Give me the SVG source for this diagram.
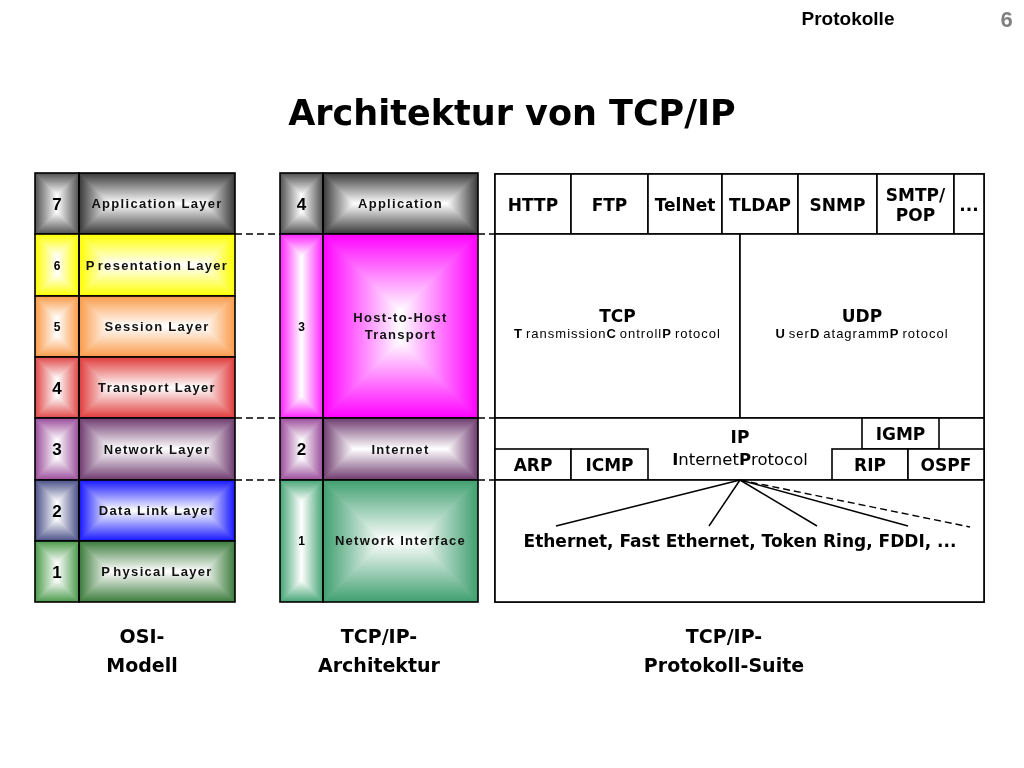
<svg xmlns="http://www.w3.org/2000/svg" width="1024" height="768" viewBox="0 0 1024 768">
<style>
.gl{mix-blend-mode:screen;isolation:isolate}
.dk{mix-blend-mode:darken}
.ol{fill:none;stroke:#000;stroke-width:1.6}
.bx{fill:#fff;stroke:#000;stroke-width:1.6}
.nL{font-family:"Liberation Sans",Arial,sans-serif;font-weight:bold;font-size:17px;text-anchor:middle;fill:#000}
.nS{font-family:"Liberation Sans",Arial,sans-serif;font-weight:bold;font-size:12px;text-anchor:middle;fill:#000}
.lb{font-family:"Liberation Sans",Arial,sans-serif;font-weight:bold;font-size:13px;letter-spacing:1.3px;text-anchor:middle;fill:#111}
.pr{font-family:"DejaVu Sans",Verdana,sans-serif;font-weight:bold;font-size:17px;text-anchor:middle;fill:#000}
.sub{font-family:"Liberation Sans",Arial,sans-serif;font-size:13px;letter-spacing:1px;text-anchor:middle;fill:#000}
.b{font-weight:bold}
.cap{font-family:"DejaVu Sans",Verdana,sans-serif;font-weight:bold;font-size:19px;text-anchor:middle;fill:#000}
.ln{fill:none;stroke:#000;stroke-width:1.5}
.dash{fill:none;stroke:#000;stroke-width:1.4;stroke-dasharray:7 4}
</style>
<defs>
<linearGradient id="tH" x1="0" y1="0" x2="1" y2="0"><stop offset="0" stop-color="#000"/><stop offset=".5" stop-color="#fff"/><stop offset="1" stop-color="#000"/></linearGradient>
<linearGradient id="tV" x1="0" y1="0" x2="0" y2="1"><stop offset="0" stop-color="#000"/><stop offset=".5" stop-color="#fff"/><stop offset="1" stop-color="#000"/></linearGradient>
<linearGradient id="pH20" x1="0" y1="0" x2="1" y2="0"><stop offset="0" stop-color="#000"/><stop offset=".2" stop-color="#fff"/><stop offset=".8" stop-color="#fff"/><stop offset="1" stop-color="#000"/></linearGradient>
<linearGradient id="pH39" x1="0" y1="0" x2="1" y2="0"><stop offset="0" stop-color="#000"/><stop offset=".39" stop-color="#fff"/><stop offset=".61" stop-color="#fff"/><stop offset="1" stop-color="#000"/></linearGradient>
<linearGradient id="pV36" x1="0" y1="0" x2="0" y2="1"><stop offset="0" stop-color="#000"/><stop offset=".36" stop-color="#fff"/><stop offset=".64" stop-color="#fff"/><stop offset="1" stop-color="#000"/></linearGradient>
<linearGradient id="pV42" x1="0" y1="0" x2="0" y2="1"><stop offset="0" stop-color="#000"/><stop offset=".42" stop-color="#fff"/><stop offset=".58" stop-color="#fff"/><stop offset="1" stop-color="#000"/></linearGradient>
<linearGradient id="pV12" x1="0" y1="0" x2="0" y2="1"><stop offset="0" stop-color="#000"/><stop offset=".12" stop-color="#fff"/><stop offset=".88" stop-color="#fff"/><stop offset="1" stop-color="#000"/></linearGradient>
<linearGradient id="pV18" x1="0" y1="0" x2="0" y2="1"><stop offset="0" stop-color="#000"/><stop offset=".18" stop-color="#fff"/><stop offset=".82" stop-color="#fff"/><stop offset="1" stop-color="#000"/></linearGradient>
</defs>
<rect x="0" y="0" width="1024" height="768" fill="#fff"/>

<g id="header">
<text x="848" y="25" style="font-family:'Liberation Sans',Arial,sans-serif;font-weight:bold;font-size:19px;text-anchor:middle;fill:#000">Protokolle</text>
<text x="1006.5" y="27" style="font-family:'Liberation Sans',Arial,sans-serif;font-weight:bold;font-size:22px;text-anchor:middle;fill:#808080">6</text>
<text x="512" y="125" style="font-family:'DejaVu Sans',Verdana,sans-serif;font-weight:bold;font-size:35px;text-anchor:middle;fill:#000">Architektur von TCP/IP</text>
</g>

<!-- OSI model -->
<g id="osi-7">
<rect x="35" y="173" width="44" height="61" fill="#505050"/>
<g class="gl"><rect x="35" y="173" width="44" height="61" fill="url(#tH)"/><rect class="dk" x="35" y="173" width="44" height="61" fill="url(#pV36)"/></g>
<rect x="79" y="173" width="156" height="61" fill="#383838"/>
<g class="gl"><rect x="79" y="173" width="156" height="61" fill="url(#pH20)"/><rect class="dk" x="79" y="173" width="156" height="61" fill="url(#tV)"/></g>
<rect class="ol" x="35" y="173" width="44" height="61"/><rect class="ol" x="79" y="173" width="156" height="61"/>
<text class="nL" x="57" y="209.5">7</text>
<text class="lb" x="157" y="208">Application Layer</text>
</g>
<g id="osi-6">
<rect x="35" y="234" width="44" height="62" fill="#ffff00"/>
<g class="gl"><rect x="35" y="234" width="44" height="62" fill="url(#tH)"/><rect class="dk" x="35" y="234" width="44" height="62" fill="url(#pV36)"/></g>
<rect x="79" y="234" width="156" height="62" fill="#ffff00"/>
<g class="gl"><rect x="79" y="234" width="156" height="62" fill="url(#pH20)"/><rect class="dk" x="79" y="234" width="156" height="62" fill="url(#tV)"/></g>
<rect class="ol" x="35" y="234" width="44" height="62"/><rect class="ol" x="79" y="234" width="156" height="62"/>
<text class="nS" x="57" y="269.5">6</text>
<text class="lb" x="157" y="269.5">P<tspan dx="2">resentation Layer</tspan></text>
</g>
<g id="osi-5">
<rect x="35" y="296" width="44" height="61" fill="#fa9a48"/>
<g class="gl"><rect x="35" y="296" width="44" height="61" fill="url(#tH)"/><rect class="dk" x="35" y="296" width="44" height="61" fill="url(#pV36)"/></g>
<rect x="79" y="296" width="156" height="61" fill="#fa9a48"/>
<g class="gl"><rect x="79" y="296" width="156" height="61" fill="url(#pH20)"/><rect class="dk" x="79" y="296" width="156" height="61" fill="url(#tV)"/></g>
<rect class="ol" x="35" y="296" width="44" height="61"/><rect class="ol" x="79" y="296" width="156" height="61"/>
<text class="nS" x="57" y="331">5</text>
<text class="lb" x="157" y="331">Session Layer</text>
</g>
<g id="osi-4">
<rect x="35" y="357" width="44" height="61" fill="#e04848"/>
<g class="gl"><rect x="35" y="357" width="44" height="61" fill="url(#tH)"/><rect class="dk" x="35" y="357" width="44" height="61" fill="url(#pV36)"/></g>
<rect x="79" y="357" width="156" height="61" fill="#e03a3a"/>
<g class="gl"><rect x="79" y="357" width="156" height="61" fill="url(#pH20)"/><rect class="dk" x="79" y="357" width="156" height="61" fill="url(#tV)"/></g>
<rect class="ol" x="35" y="357" width="44" height="61"/><rect class="ol" x="79" y="357" width="156" height="61"/>
<text class="nL" x="57" y="393.5">4</text>
<text class="lb" x="157" y="392">Transport Layer</text>
</g>
<g id="osi-3">
<rect x="35" y="418" width="44" height="62" fill="#9a4c9a"/>
<g class="gl"><rect x="35" y="418" width="44" height="62" fill="url(#tH)"/><rect class="dk" x="35" y="418" width="44" height="62" fill="url(#pV36)"/></g>
<rect x="79" y="418" width="156" height="62" fill="#6e3a6e"/>
<g class="gl"><rect x="79" y="418" width="156" height="62" fill="url(#pH20)"/><rect class="dk" x="79" y="418" width="156" height="62" fill="url(#tV)"/></g>
<rect class="ol" x="35" y="418" width="44" height="62"/><rect class="ol" x="79" y="418" width="156" height="62"/>
<text class="nL" x="57" y="455">3</text>
<text class="lb" x="157" y="453.5">Network Layer</text>
</g>
<g id="osi-2">
<rect x="35" y="480" width="44" height="61" fill="#4a5088"/>
<g class="gl"><rect x="35" y="480" width="44" height="61" fill="url(#tH)"/><rect class="dk" x="35" y="480" width="44" height="61" fill="url(#pV36)"/></g>
<rect x="79" y="480" width="156" height="61" fill="#1515ff"/>
<g class="gl"><rect x="79" y="480" width="156" height="61" fill="url(#pH20)"/><rect class="dk" x="79" y="480" width="156" height="61" fill="url(#tV)"/></g>
<rect class="ol" x="35" y="480" width="44" height="61"/><rect class="ol" x="79" y="480" width="156" height="61"/>
<text class="nL" x="57" y="516.5">2</text>
<text class="lb" x="157" y="515">Data Link Layer</text>
</g>
<g id="osi-1">
<rect x="35" y="541" width="44" height="61" fill="#4a9a4a"/>
<g class="gl"><rect x="35" y="541" width="44" height="61" fill="url(#tH)"/><rect class="dk" x="35" y="541" width="44" height="61" fill="url(#pV36)"/></g>
<rect x="79" y="541" width="156" height="61" fill="#3a7a3a"/>
<g class="gl"><rect x="79" y="541" width="156" height="61" fill="url(#pH20)"/><rect class="dk" x="79" y="541" width="156" height="61" fill="url(#tV)"/></g>
<rect class="ol" x="35" y="541" width="44" height="61"/><rect class="ol" x="79" y="541" width="156" height="61"/>
<text class="nL" x="57" y="577.5">1</text>
<text class="lb" x="157" y="576">P<tspan dx="2">hysical Layer</tspan></text>
</g>

<!-- TCP/IP architecture -->
<g id="arch-4">
<rect x="280" y="173" width="43" height="61" fill="#505050"/>
<g class="gl"><rect x="280" y="173" width="43" height="61" fill="url(#tH)"/><rect class="dk" x="280" y="173" width="43" height="61" fill="url(#pV36)"/></g>
<rect x="323" y="173" width="155" height="61" fill="#383838"/>
<g class="gl"><rect x="323" y="173" width="155" height="61" fill="url(#pH20)"/><rect class="dk" x="323" y="173" width="155" height="61" fill="url(#tV)"/></g>
<rect class="ol" x="280" y="173" width="43" height="61"/><rect class="ol" x="323" y="173" width="155" height="61"/>
<text class="nL" x="301.5" y="209.5">4</text>
<text class="lb" x="400.5" y="208">Application</text>
</g>
<g id="arch-3">
<rect x="280" y="234" width="43" height="184" fill="#ff22ff"/>
<g class="gl"><rect x="280" y="234" width="43" height="184" fill="url(#tH)"/><rect class="dk" x="280" y="234" width="43" height="184" fill="url(#pV12)"/></g>
<rect x="323" y="234" width="155" height="184" fill="#ff00ff"/>
<g class="gl"><rect x="323" y="234" width="155" height="184" fill="url(#tH)"/><rect class="dk" x="323" y="234" width="155" height="184" fill="url(#pV42)"/></g>
<rect class="ol" x="280" y="234" width="43" height="184"/><rect class="ol" x="323" y="234" width="155" height="184"/>
<text class="nS" x="301.5" y="331">3</text>
<text class="lb" x="400.5" y="322">Host-to-Host</text>
<text class="lb" x="400.5" y="339">Transport</text>
</g>
<g id="arch-2">
<rect x="280" y="418" width="43" height="62" fill="#9a4c9a"/>
<g class="gl"><rect x="280" y="418" width="43" height="62" fill="url(#tH)"/><rect class="dk" x="280" y="418" width="43" height="62" fill="url(#pV36)"/></g>
<rect x="323" y="418" width="155" height="62" fill="#6e3a6e"/>
<g class="gl"><rect x="323" y="418" width="155" height="62" fill="url(#pH20)"/><rect class="dk" x="323" y="418" width="155" height="62" fill="url(#tV)"/></g>
<rect class="ol" x="280" y="418" width="43" height="62"/><rect class="ol" x="323" y="418" width="155" height="62"/>
<text class="nL" x="301.5" y="455">2</text>
<text class="lb" x="400.5" y="454">Internet</text>
</g>
<g id="arch-1">
<rect x="280" y="480" width="43" height="122" fill="#45a575"/>
<g class="gl"><rect x="280" y="480" width="43" height="122" fill="url(#tH)"/><rect class="dk" x="280" y="480" width="43" height="122" fill="url(#pV18)"/></g>
<rect x="323" y="480" width="155" height="122" fill="#3f9f6f"/>
<g class="gl"><rect x="323" y="480" width="155" height="122" fill="url(#pH39)"/><rect class="dk" x="323" y="480" width="155" height="122" fill="url(#tV)"/></g>
<rect class="ol" x="280" y="480" width="43" height="122"/><rect class="ol" x="323" y="480" width="155" height="122"/>
<text class="nS" x="301.5" y="545">1</text>
<text class="lb" x="400.5" y="545">Network Interface</text>
</g>

<!-- Protocol suite -->
<g id="suite-frame"><rect class="bx" x="495" y="174" width="489" height="428"/></g>
<g id="p-http"><rect class="bx" x="495" y="174" width="76" height="60"/><text class="pr" x="533" y="210.5">HTTP</text></g>
<g id="p-ftp"><rect class="bx" x="571" y="174" width="77" height="60"/><text class="pr" x="609.5" y="210.5">FTP</text></g>
<g id="p-telnet"><rect class="bx" x="648" y="174" width="74" height="60"/><text class="pr" x="685" y="210.5">TelNet</text></g>
<g id="p-tldap"><rect class="bx" x="722" y="174" width="76" height="60"/><text class="pr" x="760" y="210.5">TLDAP</text></g>
<g id="p-snmp"><rect class="bx" x="798" y="174" width="79" height="60"/><text class="pr" x="837.5" y="210.5">SNMP</text></g>
<g id="p-smtp"><rect class="bx" x="877" y="174" width="77" height="60"/><text class="pr" x="915.5" y="201">SMTP/</text><text class="pr" x="915.5" y="221">POP</text></g>
<g id="p-more"><rect class="bx" x="954" y="174" width="30" height="60"/><text class="pr" x="969" y="210.5">...</text></g>
<g id="p-tcp"><rect class="bx" x="495" y="234" width="245" height="184"/>
<text class="pr" x="617.5" y="322">TCP</text>
<text class="sub" x="617.5" y="338"><tspan class="b">T</tspan><tspan dx="3">ransmission</tspan><tspan class="b">C</tspan><tspan dx="3">ontroll</tspan><tspan class="b">P</tspan><tspan dx="3">rotocol</tspan></text>
</g>
<g id="p-udp"><rect class="bx" x="740" y="234" width="244" height="184"/>
<text class="pr" x="862" y="322">UDP</text>
<text class="sub" x="862" y="338"><tspan class="b">U</tspan><tspan dx="3">ser</tspan><tspan class="b">D</tspan><tspan dx="3">atagramm</tspan><tspan class="b">P</tspan><tspan dx="3">rotocol</tspan></text>
</g>
<g id="p-ip"><rect class="bx" x="495" y="418" width="489" height="62"/>
<text class="pr" x="740" y="443">IP</text>
<text x="740" y="465" style="font-family:'DejaVu Sans',Verdana,sans-serif;font-size:16.5px;text-anchor:middle;fill:#000"><tspan class="b">I</tspan>nternet<tspan class="b">P</tspan>rotocol</text>
</g>
<g id="p-arp"><rect class="bx" x="495" y="449" width="76" height="31"/><text class="pr" x="533" y="471">ARP</text></g>
<g id="p-icmp"><rect class="bx" x="571" y="449" width="77" height="31"/><text class="pr" x="609.5" y="471">ICMP</text></g>
<g id="p-igmp"><rect class="bx" x="862" y="418" width="77" height="31"/><text class="pr" x="900.5" y="440">IGMP</text></g>
<g id="p-rip"><rect class="bx" x="832" y="449" width="76" height="31"/><text class="pr" x="870" y="471">RIP</text></g>
<g id="p-ospf"><rect class="bx" x="908" y="449" width="76" height="31"/><text class="pr" x="946" y="471">OSPF</text></g>
<g id="p-link"><rect class="bx" x="495" y="480" width="489" height="122"/>
<text class="pr" x="740" y="547">Ethernet, Fast Ethernet, Token Ring, FDDI, ...</text>
</g>

<g id="connectors">
<line class="dash" x1="235" y1="234" x2="280" y2="234"/>
<line class="dash" x1="235" y1="418" x2="280" y2="418"/>
<line class="dash" x1="235" y1="480" x2="280" y2="480"/>
<line class="dash" x1="478" y1="234" x2="495" y2="234"/>
<line class="dash" x1="478" y1="418" x2="495" y2="418"/>
<line class="dash" x1="478" y1="480" x2="495" y2="480"/>
<line class="ln" x1="740" y1="480" x2="556" y2="526"/>
<line class="ln" x1="740" y1="480" x2="709" y2="526"/>
<line class="ln" x1="740" y1="480" x2="817" y2="526"/>
<line class="ln" x1="740" y1="480" x2="908" y2="526"/>
<line class="dash" x1="740" y1="480" x2="970" y2="527"/>
</g>

<g id="captions">
<text class="cap" x="142" y="643">OSI-</text>
<text class="cap" x="142" y="672">Modell</text>
<text class="cap" x="379" y="643">TCP/IP-</text>
<text class="cap" x="379" y="672">Architektur</text>
<text class="cap" x="724" y="643">TCP/IP-</text>
<text class="cap" x="724" y="672">Protokoll-Suite</text>
</g>
</svg>
